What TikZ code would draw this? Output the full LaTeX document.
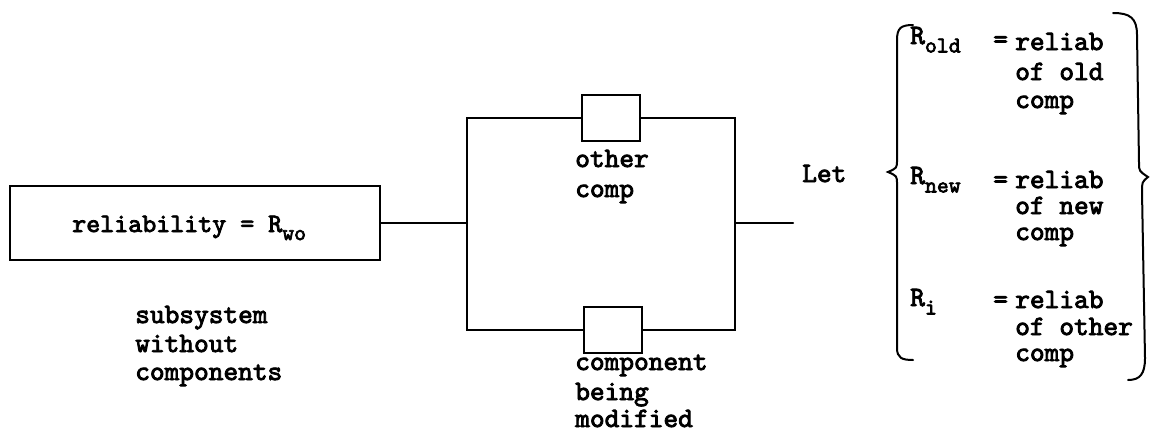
\documentclass[tikz,border=0pt]{standalone}
\usepackage{fontspec}
\newfontfamily\tw[FakeBold=3]{lmmono10-regular.otf}
\newcommand\lowsub[1]{\raisebox{-0.7ex}{\fontsize{17}{17}\selectfont #1}}
\tikzset{
  wire/.style={line width=1.5pt, line cap=round},
  txt/.style={font=\tw\fontsize{21}{23}\selectfont, anchor=base west, inner sep=0pt},
  btxt/.style={font=\tw\fontsize{20}{22}\selectfont, anchor=base west, inner sep=0pt},
  compbox/.style={draw, line width=1.5pt, minimum width=44pt, minimum height=35pt, inner sep=0pt},
  subbox/.style={draw, line width=1.5pt, minimum width=278pt, minimum height=56pt, inner sep=0pt}
}
\begin{document}
\begin{tikzpicture}[x=0.75pt,y=-0.75pt]
\useasboundingbox (0,0) rectangle (1163,439);
% left subsystem
\node[subbox] (sub) at (195,223) {};
\node[btxt] (subtxt) at (72,232) {reliability = R\lowsub{wo}};
\node[txt] (s1) at (135,323) {subsystem};
\node[txt] (s2) at (135,352) {without};
\node[txt] (s3) at (135,380) {components};
% parallel components
\coordinate (jl) at (467,223);
\coordinate (jr) at (735,223);
\coordinate (out) at (793,223);
\node[compbox] (top) at (611,118) {};
\node[compbox] (bot) at (613,330) {};
\draw[wire] (sub.east) -- (jl);
\draw[wire] (jl) |- (top.west);
\draw[wire] (top.east) -| (jr);
\draw[wire] (jl) |- (bot.west);
\draw[wire] (bot.east) -| (jr);
\draw[wire] (jr) -- (out);
\node[txt] (o1) at (575,167) {other};
\node[txt] (o2) at (575,197) {comp};
\node[txt] (c1) at (575,370) {component};
\node[txt] (c2) at (575,400) {being};
\node[txt] (c3) at (575,427) {modified};
% definitions
\node[txt] (let) at (802,182) {Let};
\draw[wire] (913,25) .. controls (901,25) and (897,28) .. (897,40) -- (897,160)
  .. controls (897,168) .. (888,172) .. controls (897,176) .. (897,184) -- (897,348)
  .. controls (897,358) and (902,360) .. (913,360);
\draw[wire] (1113,13) .. controls (1130,13) and (1137,18) .. (1137,35) -- (1139,163)
  .. controls (1139,171) .. (1148,177) .. controls (1142,182) .. (1142,192) -- (1145,358)
  .. controls (1145,374) and (1140,380) .. (1128,380);
\node[txt] (ro) at (910,44) {R\lowsub{old}};
\node[txt] (eq1) at (993,48) {=};
\node[txt] (a1) at (1015,50) {reliab};
\node[txt] (a2) at (1015,80) {of old};
\node[txt] (a3) at (1015,108) {comp};
\node[txt] (rn) at (910,184) {R\lowsub{new}};
\node[txt] (eq2) at (993,188) {=};
\node[txt] (b1) at (1015,188) {reliab};
\node[txt] (b2) at (1015,214) {of new};
\node[txt] (b3) at (1015,240) {comp};
\node[txt] (ri) at (910,306) {R\lowsub{i}};
\node[txt] (eq3) at (993,308) {=};
\node[txt] (d1) at (1015,308) {reliab};
\node[txt] (d2) at (1015,335) {of other};
\node[txt] (d3) at (1015,361) {comp};
\end{tikzpicture}
\end{document}
